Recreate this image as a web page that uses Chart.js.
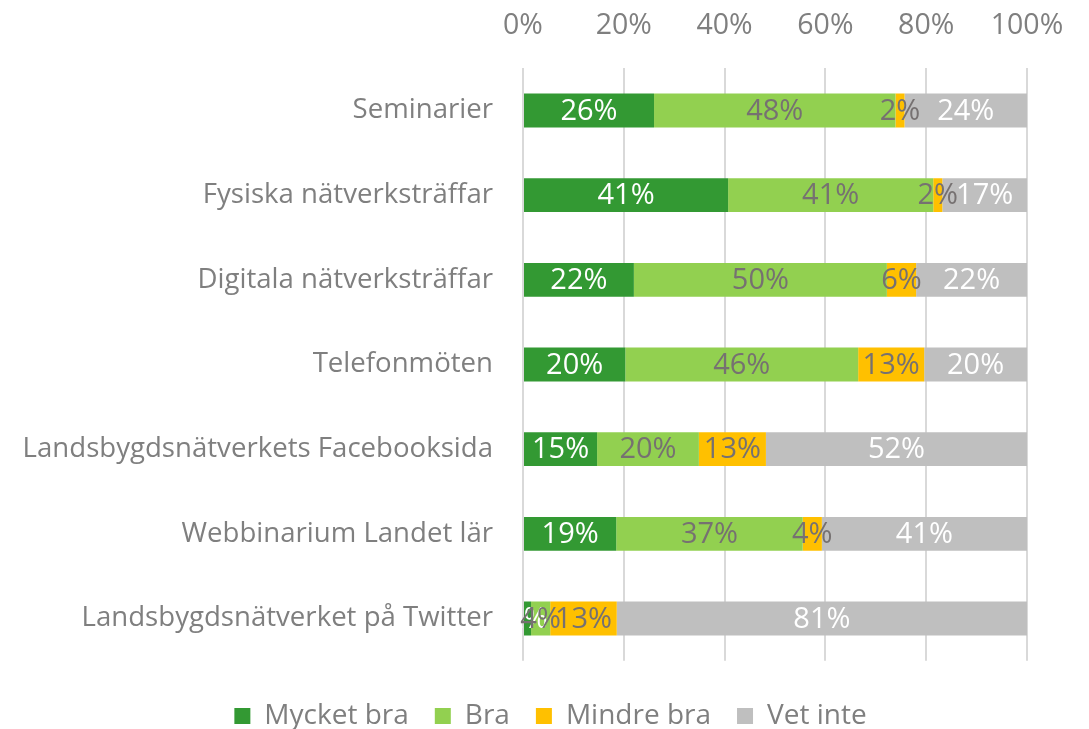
<!DOCTYPE html>
<html>
<head>
<meta charset="utf-8">
<script src="https://cdn.jsdelivr.net/npm/chart.js@4"></script>
<style>
  html, body { margin: 0; padding: 0; background: #fff; }
  #wrap { width: 1089px; height: 729px; }
</style>
</head>
<body>
<div id="wrap"><canvas id="chart" width="1089" height="729"></canvas></div>
<script>
// Survey answers per channel, share of respondents (%)
const categories = [
  'Seminarier',
  'Fysiska nätverksträffar',
  'Digitala nätverksträffar',
  'Telefonmöten',
  'Landsbygdsnätverkets Facebooksida',
  'Webbinarium Landet lär',
  'Landsbygdsnätverket på Twitter'
];
const seriesNames = ['Mycket bra', 'Bra', 'Mindre bra', 'Vet inte'];
const mycketBra = [26.0, 40.7, 22.0, 20.3, 14.7, 18.5, 1.6];
const bra       = [47.9, 40.7, 50.2, 46.2, 20.2, 37.0, 3.8];
const mindreBra = [1.8, 1.8, 5.8, 13.1, 13.3, 3.8, 13.2];
const vetInte   = [24.3, 16.8, 22.0, 20.4, 51.8, 40.7, 81.4];
const xTicks = [0, 20, 40, 60, 80, 100];

const colors = ['#339933', '#92d050', '#ffc000', '#bfbfbf'];
const labelColors = ['#ffffff', '#767171', '#767171', '#ffffff'];
const textGray = '#7f7f7f';
const fontFamily = '"Open Sans", sans-serif';

// draws the rounded percentage in the middle of every segment
const segmentLabels = {
  id: 'segmentLabels',
  afterDatasetsDraw(chart) {
    const ctx = chart.ctx;
    ctx.save();
    ctx.font = '29px ' + fontFamily;
    ctx.textAlign = 'center';
    ctx.textBaseline = 'middle';
    chart.data.datasets.forEach((ds, di) => {
      const meta = chart.getDatasetMeta(di);
      meta.data.forEach((bar, i) => {
        const p = bar.getCenterPoint();
        ctx.fillStyle = labelColors[di];
        ctx.fillText(Math.round(ds.data[i]) + '%', p.x, p.y + 1);
      });
    });
    ctx.restore();
  }
};

// the legend row sits a little right of the canvas centre
const legendShift = {
  id: 'legendShift',
  afterLayout(chart) {
    chart.legend.left += 27;
    chart.legend.right += 27;
  }
};

const values = [mycketBra, bra, mindreBra, vetInte];

new Chart(document.getElementById('chart'), {
  type: 'bar',
  data: {
    labels: categories,
    datasets: seriesNames.map((name, i) => ({
      label: name,
      data: values[i],
      backgroundColor: colors[i],
      borderWidth: 0,
      barPercentage: 0.4,
      categoryPercentage: 1.0
    }))
  },
  options: {
    indexAxis: 'y',
    responsive: false,
    animation: false,
    layout: { padding: { left: 20, right: 62, top: -16, bottom: -11 } },
    scales: {
      x: {
        position: 'top',
        stacked: true,
        min: 0,
        max: 100,
        afterBuildTicks(axis) {
          axis.ticks = xTicks.map(v => ({ value: v }));
        },
        ticks: {
          callback: v => v + '%',
          color: textGray,
          font: { family: fontFamily, size: 28.5 },
          padding: 25
        },
        grid: { color: '#d9d9d9', lineWidth: 2, drawTicks: false },
        border: { display: false }
      },
      y: {
        stacked: true,
        afterFit(axis) {
          axis.width = 503;
        },
        ticks: {
          color: textGray,
          font: { family: fontFamily, size: 27.6 },
          padding: 22
        },
        grid: { display: false },
        border: { display: false }
      }
    },
    plugins: {
      legend: {
        position: 'bottom',
        // empty title only adds room between the bars and the legend row
        title: { display: true, text: '', font: { size: 1 }, padding: { top: 14, bottom: 0 } },
        labels: {
          boxWidth: 16,
          boxHeight: 16,
          color: textGray,
          font: { family: fontFamily, size: 28 },
          padding: 26
        }
      },
      tooltip: { enabled: false }
    }
  },
  plugins: [segmentLabels, legendShift]
});
</script>
</body>
</html>
